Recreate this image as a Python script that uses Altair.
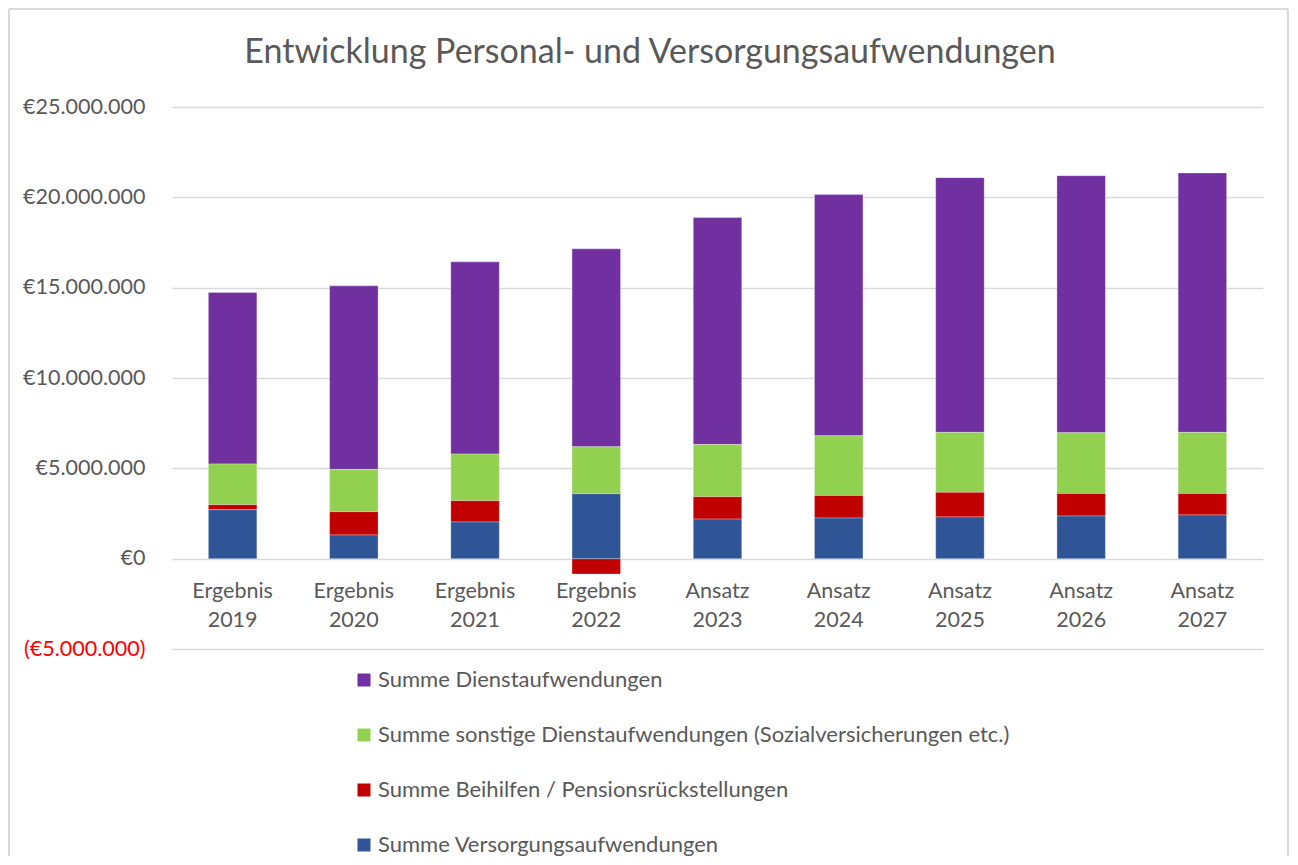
import altair as alt
import pandas as pd

categories = ["Ergebnis 2019", "Ergebnis 2020", "Ergebnis 2021", "Ergebnis 2022",
              "Ansatz 2023", "Ansatz 2024", "Ansatz 2025", "Ansatz 2026", "Ansatz 2027"]

series_names = [
    "Summe Dienstaufwendungen",
    "Summe sonstige Dienstaufwendungen (Sozialversicherungen etc.)",
    "Summe Beihilfen / Pensionsrückstellungen",
    "Summe Versorgungsaufwendungen",
]
series_colors = ["#7030A0", "#92D050", "#C00000", "#2F5597"]
stack_rank = [3, 2, 1, 0]

dienst = [9490000, 10160000, 10640000, 10960000, 12560000, 13350000, 14100000, 14230000, 14360000]
sonstige = [2250000, 2340000, 2580000, 2600000, 2890000, 3300000, 3320000, 3360000, 3380000]
beihilfen = [280000, 1290000, 1180000, -850000, 1240000, 1250000, 1360000, 1250000, 1190000]
versorgung = [2710000, 1310000, 2030000, 3590000, 2190000, 2250000, 2310000, 2360000, 2420000]

values = [dienst, sonstige, beihilfen, versorgung]

title_text = ["Entwicklung Personal- und Versorgungsaufwendungen"]

rows = []
for name, rank, vals in zip(series_names, stack_rank, values):
    for cat, v in zip(categories, vals):
        rows.append({"Kategorie": cat, "Reihe": name, "Wert": v, "Rang": rank})
df = pd.DataFrame(rows)

FONT = "Lato"
GREY = "#595959"
FRAME = "#D9D9D9"

y_label_expr = ("(datum.value < 0 ? '(€' : '€') + "
                "replace(format(abs(datum.value), ',d'), regexp(',', 'g'), '.') + "
                "(datum.value < 0 ? ')' : '')")

bars = alt.Chart(df).mark_bar(stroke="white", strokeWidth=0.6, strokeOpacity=0.5).encode(
    x=alt.X("Kategorie:N", sort=categories,
            scale=alt.Scale(paddingInner=0.6, paddingOuter=0.3),
            axis=alt.Axis(title=None, labelAngle=0, domain=False, ticks=False,
                          offset=-90, labelPadding=21, labelFontSize=21.5,
                          labelColor=GREY, labelFont=FONT, labelLineHeight=29,
                          labelExpr="split(datum.label, ' ')")),
    y=alt.Y("Wert:Q", stack="zero",
            scale=alt.Scale(domain=[-5000000, 25000000], nice=False),
            axis=alt.Axis(title=None, values=[-5000000, 0, 5000000, 10000000, 15000000, 20000000, 25000000],
                          domain=False, ticks=False, labelPadding=27,
                          labelFontSize=21.5, labelFont=FONT,
                          labelColor={"expr": "datum.value < 0 ? '#FF0000' : '#595959'"},
                          labelExpr=y_label_expr,
                          gridColor="#D9D9D9", gridWidth=1.3)),
    color=alt.Color("Reihe:N",
                    scale=alt.Scale(domain=series_names, range=series_colors),
                    legend=alt.Legend(title=None, orient="none", legendX=181, legendY=562,
                                      direction="vertical", symbolType="square",
                                      symbolSize=169, symbolStrokeWidth=0,
                                      labelFontSize=22, labelFont=FONT, labelColor=GREY,
                                      rowPadding=33, labelOffset=3, labelLimit=900)),
    order=alt.Order("Rang:Q", sort="ascending"),
)

title = alt.Chart(pd.DataFrame({"t": title_text})).mark_text(
    font=FONT, fontSize=34, color=GREY, align="center", baseline="middle"
).encode(text="t:N", x=alt.value(478), y=alt.value(-54))

frame_df = pd.DataFrame({"a": [0]})
frame_left = alt.Chart(frame_df).mark_rule(color=FRAME, strokeWidth=2).encode(
    x=alt.value(-163), y=alt.value(-98), y2=alt.value(760))
frame_top = alt.Chart(frame_df).mark_rule(color=FRAME, strokeWidth=2).encode(
    x=alt.value(-163), x2=alt.value(1116), y=alt.value(-98))
frame_right = alt.Chart(frame_df).mark_rule(color=FRAME, strokeWidth=2).encode(
    x=alt.value(1116), y=alt.value(-98), y2=alt.value(760))

chart = alt.layer(bars, title, frame_left, frame_top, frame_right).properties(
    width=1091,
    height=542,
    autosize=alt.AutoSizeParams(type="none"),
    padding={"left": 164, "top": 99, "right": 26, "bottom": 207},
).configure_view(stroke=None)

chart.save("out.html", embed_options={"renderer": "svg", "actions": False})
